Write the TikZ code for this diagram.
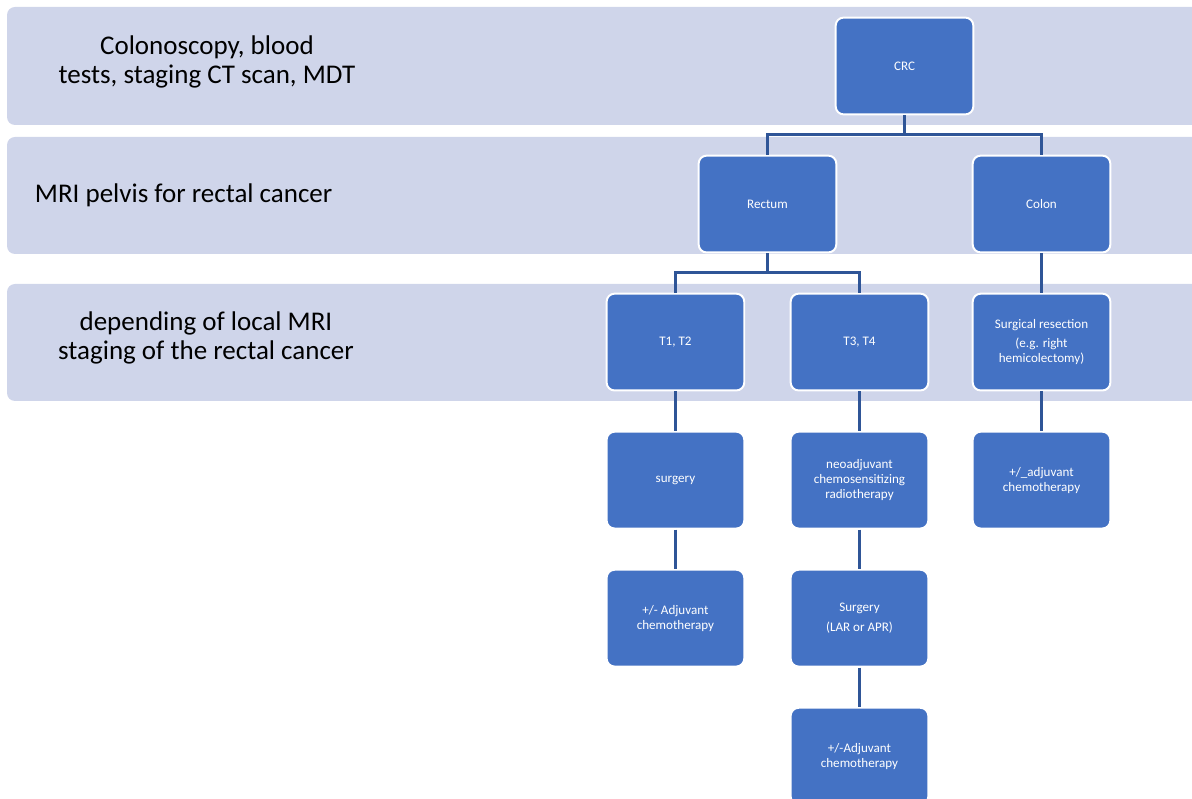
\documentclass[tikz,border=0pt]{standalone}
\usepackage{fontspec}
\setmainfont{Carlito}
\usepackage{xcolor}
\usepackage{tikz}

\definecolor{bandfill}{HTML}{CFD5EA}
\definecolor{boxblue}{HTML}{4472C4}
\definecolor{linkblue}{HTML}{2F5597}

\begin{document}
\begin{tikzpicture}[x=0.025cm, y=-0.025cm,
  blk/.style={rectangle, rounded corners=0.2cm, fill=boxblue, draw=white, line width=1.4pt, minimum width=3.44cm, minimum height=2.42cm, text=white, align=center, font=\fontsize{9.3}{10.7}\selectfont},
  bandtext/.style={align=center, font=\fontsize{19.2}{20}\selectfont},
  level distance=3.45cm, level 1/.style={sibling distance=6.85cm}, level 2/.style={sibling distance=4.6cm},
  edge from parent/.style={draw=linkblue, line width=1.6pt},
  edge from parent path={(\tikzparentnode.south) -- ++(0,-0.475cm) -| (\tikzchildnode.north)}]
  \useasboundingbox (0,0) rectangle (1192,799);
  \clip (0,0) rectangle (1192,799);
  % bands
  \fill[bandfill, rounded corners=0.2cm] (7,7) rectangle (1215,125);
  \fill[bandfill, rounded corners=0.2cm] (7,137) rectangle (1215,254);
  \fill[bandfill, rounded corners=0.2cm] (7,284) rectangle (1215,401);
  \node[bandtext] (stepone) at (207,62) {Colonoscopy, blood\\tests, staging CT scan, MDT};
  \node[bandtext, anchor=west] (steptwo) at (30,195) {MRI pelvis for rectal cancer};
  \node[bandtext] (stepthree) at (206,338) {depending of local MRI\\staging of the rectal cancer};
  % tree
  \node[blk](crc) at (904.5,66) {CRC}
    child {node[blk](rectum){Rectum}
	child {node[blk](tlow){T1, T2}
	child {node[blk](surg){surgery}
	child {node[blk](adja){+/- Adjuvant\\chemotherapy}}}}
	child {node[blk](thigh){T3, T4}
	child {node[blk](neo){neoadjuvant\\chemosensitizing\\radiotherapy}
	child {node[blk](lar){Surgery\\[4pt](LAR or APR)}
	child {node[blk](adjb){+/-Adjuvant\\chemotherapy}}}}}}
    child {node[blk](colon){Colon}
	child {node[blk](resect){Surgical resection\\[3pt](e.g. right\\hemicolectomy)}
	child {node[blk](adjc){+/\_adjuvant\\chemotherapy}}}};
\end{tikzpicture}
\end{document}
